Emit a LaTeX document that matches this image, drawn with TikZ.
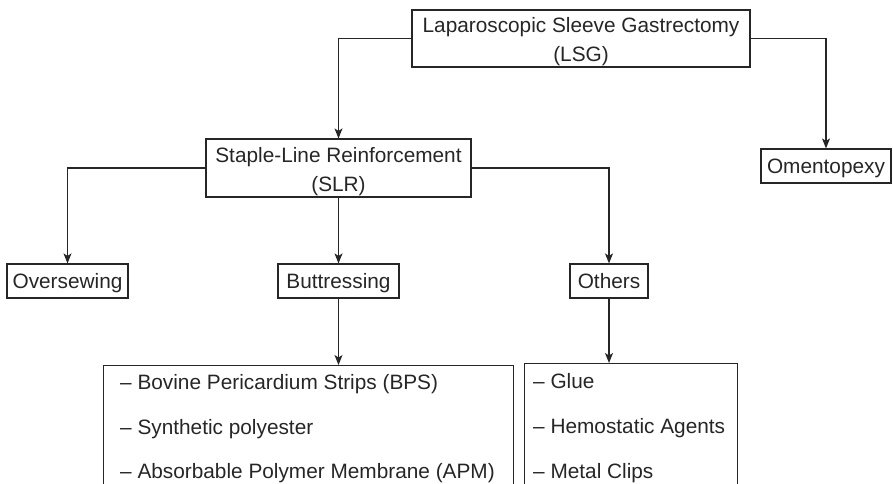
\documentclass[tikz,border=0pt]{standalone}
\usepackage{fontspec}
\setmainfont{Liberation Sans}
\usetikzlibrary{arrows.meta}
\definecolor{ink}{HTML}{262626}
\newcommand{\tallstrut}{\rule{0pt}{22pt}}
\begin{document}
\begin{tikzpicture}[x=1pt,y=-1pt,
  font=\fontsize{20.8}{29}\selectfont,
  every node/.style={text=ink},
  box/.style={draw=ink,line width=1.2pt,inner sep=0pt,align=center},
  onebox/.style={box,minimum height=34pt,text height=15pt,text depth=0pt},
  arr/.style={draw=ink,line width=1.2pt,-{Stealth[length=10pt,width=8pt,inset=2.5pt]}},
  item/.style={anchor=base west,inner sep=0pt}]
\useasboundingbox (0,0) rectangle (893,483);
\clip (0,0) rectangle (893,483);
\node[box,minimum width=338pt,minimum height=57pt] (lsg) at (581,38.5) {\tallstrut Laparoscopic Sleeve Gastrectomy\\(LSG)};
\node[box,minimum width=265pt,minimum height=58pt] (slr) at (338.5,168) {\tallstrut Staple-Line Reinforcement\\(SLR)};
\node[onebox,minimum width=130pt] (omen) at (826,166) {Omentopexy};
\node[onebox,minimum width=121pt] (over) at (67.5,281) {Oversewing};
\node[onebox,minimum width=121pt] (butt) at (338.5,281) {Buttressing};
\node[onebox,minimum width=78pt] (oth) at (609,281) {Others};
\node[box,minimum width=410pt,minimum height=150pt,anchor=north west] (blist) at (103,365) {};
\node[box,minimum width=213pt,minimum height=150pt,anchor=north west] (olist) at (524,363) {};
\node[item] (b1) at (120,389) {– Bovine Pericardium Strips (BPS)};
\node[item] (b2) at (120,434) {– Synthetic polyester};
\node[item] (b3) at (120,478) {– Absorbable Polymer Membrane (APM)};
\node[item] (o1) at (533,388) {– Glue};
\node[item] (o2) at (533,433) {– Hemostatic Agents};
\node[item] (o3) at (533,478) {– Metal Clips};
\draw[arr] (lsg.west) -| (slr.north);
\draw[arr] (lsg.east) -| (omen.north);
\draw[arr] (slr.west) -| (over.north);
\draw[arr] (slr.east) -| (oth.north);
\draw[arr] (slr.south) -- (butt.north);
\draw[arr] (butt.south) -- (butt.south |- blist.north);
\draw[arr] (oth.south) -- (oth.south |- olist.north);
\end{tikzpicture}
\end{document}
